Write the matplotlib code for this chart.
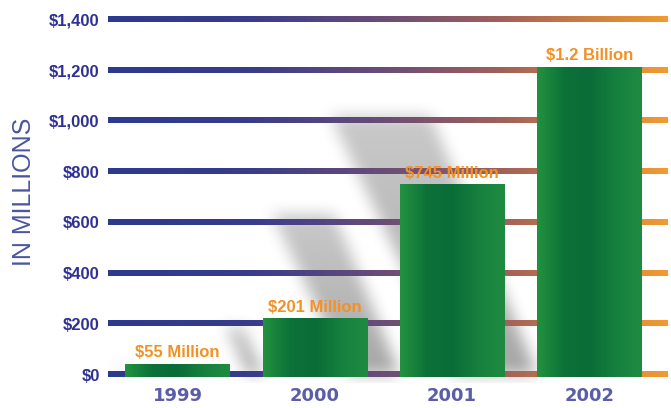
import matplotlib
matplotlib.use('Agg')
import matplotlib.pyplot as plt
import numpy as np
from matplotlib.colors import LinearSegmentedColormap
from matplotlib.path import Path

# data (bar heights in $ millions)
years = ['1999', '2000', '2001', '2002']
revenue = [42, 222, 751, 1214]
bar_labels = ['$55 Million', '$201 Million', '$745 Million', '$1.2 Billion']
ticks = [0, 200, 400, 600, 800, 1000, 1200, 1400]
tick_labels = ['$0', '$200', '$400', '$600', '$800', '$1,000', '$1,200', '$1,400']

W, Hpx = 671, 408
fig = plt.figure(figsize=(W/100, Hpx/100), dpi=100)
fig.patch.set_facecolor('white')
ax = fig.add_axes([108/W, 25/Hpx, 563/W, 378/Hpx])
x0, x1 = -0.506, 3.594
y0, y1 = -33.5, 1457
bar_w = 0.76
bar_base = -8

# soft diagonal shadows behind the bars
nx, ny = 563, 378
sx = nx/(x1-x0)
sy = ny/(y1-y0)
gx = np.linspace(x0, x1, nx)
gy = np.linspace(y1, y0, ny)
XX, YY = np.meshgrid(gx, gy)
pts = np.column_stack([XX.ravel(), YY.ravel()])
mask = np.zeros(nx*ny)
for i, v in enumerate(revenue):
    left = i - bar_w/2
    sh = 0.84*v
    hp = sh*sy/sx
    poly = [(left - 0.32*hp, 0), (left, 0), (left - 0.41*hp, sh), (left - 0.80*hp, sh)]
    inside = Path(poly).contains_points(pts)
    fade = 1 - 0.4*np.clip(pts[:, 1]/sh, 0, 1)
    mask = np.maximum(mask, inside*fade)
mask = mask.reshape(ny, nx)

def blur(a, r):
    k = np.ones(2*r+1)/(2*r+1)
    a = np.apply_along_axis(lambda m: np.convolve(m, k, mode='same'), 0, a)
    a = np.apply_along_axis(lambda m: np.convolve(m, k, mode='same'), 1, a)
    return a

soft = blur(blur(mask, 8), 8)
shadow = np.zeros((ny, nx, 4))
shadow[..., :3] = 0.42
shadow[..., 3] = 0.6*soft
ax.imshow(shadow, extent=(x0, x1, y0, y1), aspect='auto', zorder=0, interpolation='bilinear')

# gradient grid lines
line_cmap = LinearSegmentedColormap.from_list('grid', [(0, '#2c3a8f'), (0.25, '#383c8c'), (0.49, '#6a4c78'),
                                                        (0.7, '#a0605a'), (1, '#f39a30')])
line_grad = line_cmap(np.linspace(0, 1, 256))[None, :, :]
half = 2.6/sy
for t in ticks:
    ax.imshow(line_grad, extent=(x0, 3.565, t - half, t + half), aspect='auto', zorder=1,
              interpolation='bilinear')

# bars with a horizontal green gradient
bars = ax.bar(range(len(years)), np.array(revenue) - bar_base, bottom=bar_base, width=bar_w,
              color='#137a3c', zorder=2)
bar_cmap = LinearSegmentedColormap.from_list('bar', ['#22913f', '#0c7238', '#0a6c37', '#16803e', '#1f8b41'])
grad = bar_cmap(np.linspace(0, 1, 64))[None, :, :]
for b in bars:
    im = ax.imshow(grad, extent=(b.get_x(), b.get_x()+b.get_width(), b.get_y(), b.get_y()+b.get_height()),
                   aspect='auto', zorder=2.1, interpolation='bilinear')
    im.set_clip_path(b)

for i, (v, s) in enumerate(zip(revenue, bar_labels)):
    ax.annotate(s, (i, v), xytext=(0, 2.5), textcoords='offset points', ha='center', va='bottom',
                fontsize=12, fontweight='bold', color='#f39124', family='Liberation Sans', zorder=4)

ax.set_xlim(x0, x1)
ax.set_ylim(y0, y1)
ax.set_yticks(ticks, tick_labels)
ax.tick_params(axis='y', length=0, pad=6, labelsize=12, labelcolor='#2e3192')
for lab in ax.get_yticklabels():
    lab.set_fontweight('bold')
    lab.set_family('Liberation Sans')
ax.set_xticks(range(len(years)), years)
ax.tick_params(axis='x', length=0, pad=3, labelsize=13, labelcolor='#5a5ea8')
for lab in ax.get_xticklabels():
    lab.set_fontweight('bold')
for sp in ax.spines.values():
    sp.set_visible(False)
ax.set_facecolor('white')

fig.text(24/W, 1 - 192/Hpx, 'IN MILLIONS', rotation=90, ha='center', va='center',
         fontsize=18, color='#4a56a0', family='Liberation Sans')

fig.savefig('out.png', dpi=100)
